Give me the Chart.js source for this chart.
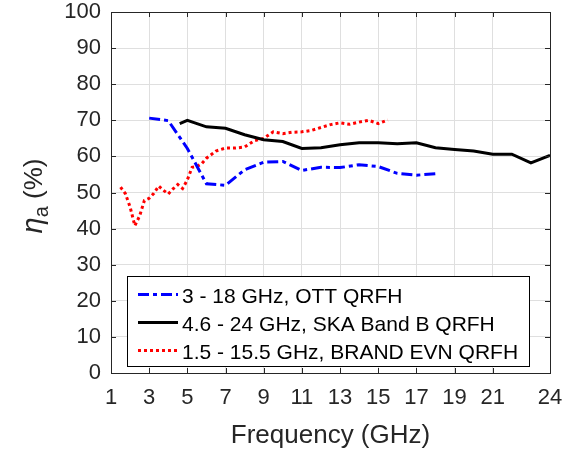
<!DOCTYPE html>
<html><head><meta charset="utf-8">
<script src="https://cdn.jsdelivr.net/npm/chart.js@4/dist/chart.umd.min.js"></script>
<style>html,body{margin:0;padding:0;background:#fff;}canvas{display:block;}</style>
</head><body>
<canvas id="c" width="570" height="451"></canvas>
<script>
// ---- data ----
const xTicks = [1, 3, 5, 7, 9, 11, 13, 15, 17, 19, 21, 24];
const yTicks = [0, 10, 20, 30, 40, 50, 60, 70, 80, 90, 100];

const ottFreq = [3, 4, 5, 6, 7, 8, 9, 10, 11, 12, 13, 14, 15, 16, 17, 18];
const ottEff  = [70.6, 69.9, 62.2, 52.4, 52.0, 56.3, 58.4, 58.6, 56.1, 57.0, 56.9, 57.7, 57.2, 55.3, 54.8, 55.2];

const skaFreq = [4.6, 5, 6, 7, 8, 9, 10, 11, 12, 13, 14, 15, 16, 17, 18, 19, 20, 21, 22, 23, 24];
const skaEff  = [69.1, 70.0, 68.2, 67.8, 66.0, 64.6, 64.1, 62.2, 62.4, 63.2, 63.8, 63.8, 63.5, 63.8, 62.4, 61.9, 61.5, 60.6, 60.6, 58.2, 60.3];

const evnFreq = [1.5, 1.75, 2, 2.25, 2.5, 2.75, 3, 3.25, 3.5, 3.75, 4, 4.25, 4.5, 4.75, 5, 5.25, 5.5, 5.75, 6, 6.5, 7, 7.5, 8, 8.5, 9, 9.5, 10, 10.5, 11, 11.5, 12, 12.5, 13, 13.5, 14, 14.5, 15, 15.5];
const evnEff  = [51.5, 49.7, 46.0, 40.8, 43.5, 47.8, 48.4, 49.8, 51.8, 50.6, 49.6, 51.0, 52.2, 51.1, 53.5, 57.0, 57.2, 58.0, 59.5, 61.5, 62.3, 62.3, 62.6, 64.3, 65.0, 66.8, 66.3, 66.7, 66.8, 67.2, 68.0, 68.8, 69.3, 68.9, 69.5, 70.0, 69.1, 70.1];

const seriesLabels = ['3 - 18 GHz, OTT QRFH', '4.6 - 24 GHz, SKA Band B QRFH', '1.5 - 15.5 GHz, BRAND EVN QRFH'];
const xTitle = 'Frequency (GHz)';

// ---- styling ----
const FONT = '"Liberation Sans", Arial, Helvetica, sans-serif';
const TXT = '#262626';
const pts = (xs, ys) => xs.map((x, i) => ({x: x, y: ys[i]}));

const boxPlugin = {
  id: 'matlabBox',
  afterDraw(chart) {
    const ctx = chart.ctx, a = chart.chartArea;
    const xs = chart.scales.x, ys = chart.scales.y;
    ctx.save();
    // ticks (inward)
    ctx.strokeStyle = TXT; ctx.lineWidth = 1;
    ctx.beginPath();
    xTicks.forEach(v => {
      const px = Math.round(xs.getPixelForValue(v)) + 0.5;
      ctx.moveTo(px, a.bottom); ctx.lineTo(px, a.bottom - 5);
      ctx.moveTo(px, a.top); ctx.lineTo(px, a.top + 5);
    });
    yTicks.forEach(v => {
      const py = Math.round(ys.getPixelForValue(v)) + 0.5;
      ctx.moveTo(a.left, py); ctx.lineTo(a.left + 5, py);
      ctx.moveTo(a.right, py); ctx.lineTo(a.right - 5, py);
    });
    ctx.stroke();
    // box
    ctx.strokeRect(Math.round(a.left) + 0.5, Math.round(a.top) + 0.5, Math.round(a.right - a.left), Math.round(a.bottom - a.top));

    // legend
    const lx0 = 127, ly0 = 276, lx1 = 529, ly1 = 366;
    ctx.fillStyle = '#fff';
    ctx.fillRect(lx0, ly0, lx1 - lx0, ly1 - ly0);
    ctx.strokeStyle = '#000'; ctx.lineWidth = 1;
    ctx.strokeRect(lx0 + 0.5, ly0 + 0.5, lx1 - lx0, ly1 - ly0);
    const rows = [295.5, 323.5, 351.5];
    chart.data.datasets.forEach((ds, i) => {
      const cy = rows[i];
      ctx.save();
      ctx.strokeStyle = ds.borderColor; ctx.lineWidth = ds.borderWidth;
      ctx.setLineDash(ds.borderDash || []);
      ctx.beginPath(); ctx.moveTo(138, cy - 1); ctx.lineTo(178, cy - 1); ctx.stroke();
      ctx.restore();
      ctx.fillStyle = '#000';
      ctx.font = '21px ' + FONT;
      ctx.textBaseline = 'alphabetic'; ctx.textAlign = 'left';
      ctx.fillText(ds.label, 182, cy + 7.5);
    });

    // x title
    ctx.fillStyle = TXT;
    ctx.font = '26px ' + FONT;
    ctx.textAlign = 'center'; ctx.textBaseline = 'alphabetic';
    ctx.fillText(xTitle, (a.left + a.right) / 2, 443);

    // y title: eta_a (%)
    ctx.translate(42, 196);
    ctx.rotate(-Math.PI / 2);
    const f1 = 'italic 29px ' + FONT, f2 = '20px ' + FONT, f3 = '26px ' + FONT;
    ctx.font = f1; const w1 = ctx.measureText('\u03B7').width;
    ctx.font = f2; const w2 = ctx.measureText('a').width;
    ctx.font = f3; const w3 = ctx.measureText(' (%)').width;
    let sx = -(w1 + w2 + w3) / 2;
    ctx.textAlign = 'left';
    ctx.font = f1; ctx.fillText('\u03B7', sx, 0); sx += w1;
    ctx.font = f2; ctx.fillText('a', sx, 6); sx += w2;
    ctx.font = f3; ctx.fillText(' (%)', sx, 0);
    ctx.restore();
  }
};

new Chart(document.getElementById('c'), {
  type: 'line',
  data: {
    datasets: [
      { label: seriesLabels[0], data: pts(ottFreq, ottEff), borderColor: '#0000ff', borderWidth: 3, borderDash: [11, 4, 4, 4], pointRadius: 0, tension: 0, fill: false },
      { label: seriesLabels[1], data: pts(skaFreq, skaEff), borderColor: '#000000', borderWidth: 3, pointRadius: 0, tension: 0, fill: false },
      { label: seriesLabels[2], data: pts(evnFreq, evnEff), borderColor: '#ff0000', borderWidth: 3, borderDash: [3, 3], pointRadius: 0, tension: 0, fill: false }
    ]
  },
  options: {
    responsive: false,
    animation: false,
    devicePixelRatio: 1,
    layout: { padding: { left: 0, right: 20, top: 12, bottom: 0 } },
    plugins: { legend: { display: false }, tooltip: { enabled: false }, title: { display: false } },
    scales: {
      x: {
        type: 'linear', min: 1, max: 24,
        afterBuildTicks: s => { s.ticks = xTicks.map(v => ({ value: v })); },
        afterFit: s => { s.height = 78; s.paddingLeft = 0; s.paddingRight = 0; },
        grid: { color: '#dfdfdf', drawTicks: false, lineWidth: 1 },
        border: { display: false },
        ticks: { color: TXT, font: { family: FONT, size: 22 }, padding: 12, maxRotation: 0, autoSkip: false }
      },
      y: {
        type: 'linear', min: 0, max: 100,
        afterBuildTicks: s => { s.ticks = yTicks.map(v => ({ value: v })); },
        afterFit: s => { s.width = 111; s.paddingTop = 0; s.paddingBottom = 0; },
        grid: { color: '#dfdfdf', drawTicks: false, lineWidth: 1 },
        border: { display: false },
        ticks: { color: TXT, font: { family: FONT, size: 22 }, padding: 10, autoSkip: false }
      }
    }
  },
  plugins: [boxPlugin]
});
</script>
</body></html>
